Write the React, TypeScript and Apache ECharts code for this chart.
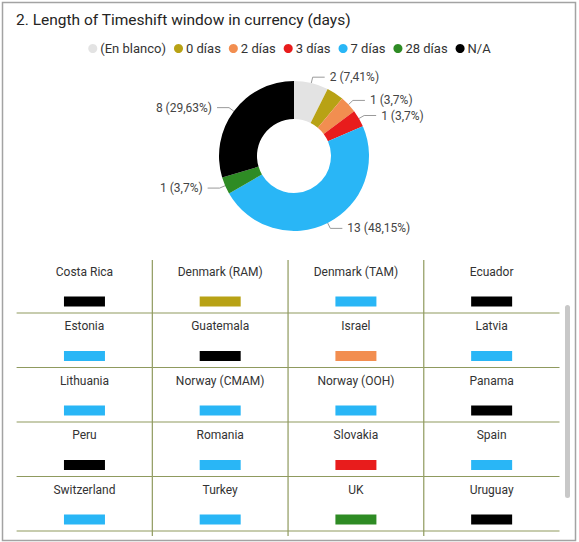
import React, { useEffect, useRef } from "react";
import * as echarts from "echarts";

const FONT = "Roboto";

const titleText = "2. Length of Timeshift window in currency (days)";

const categoryNames = ["(En blanco)", "0 días", "2 días", "3 días", "7 días", "28 días", "N/A"];
const categoryColors = ["#e3e3e3", "#b8a215", "#f28e50", "#e81c1c", "#29b6f6", "#2e8b24", "#000000"];
const pieValues = [2, 1, 1, 1, 13, 1, 8];
const hiddenLabels = ["0 días"];

const tableColumns = ["c1", "c2", "c3", "c4"];
const tableRows = ["r1", "r2", "r3", "r4", "r5"];
const countries = [
  "Costa Rica", "Denmark (RAM)", "Denmark (TAM)", "Ecuador",
  "Estonia", "Guatemala", "Israel", "Latvia",
  "Lithuania", "Norway (CMAM)", "Norway (OOH)", "Panama",
  "Peru", "Romania", "Slovakia", "Spain",
  "Switzerland", "Turkey", "UK", "Uruguay",
];
const countryCategory = [
  "N/A", "0 días", "7 días", "N/A",
  "7 días", "N/A", "2 días", "7 días",
  "7 días", "7 días", "7 días", "N/A",
  "N/A", "7 días", "3 días", "7 días",
  "7 días", "7 días", "28 días", "N/A",
];

const LINE_COLOR = "#8f9a5e";

export default function App() {
  const ref = useRef<HTMLDivElement>(null);

  useEffect(() => {
    if (!ref.current) return;
    const chart = echarts.init(ref.current, undefined, { renderer: "svg" });
    const total = pieValues.reduce((a, b) => a + b, 0);

    const pieData = categoryNames.map((name, i) => ({
      name,
      value: pieValues[i],
      itemStyle: { color: categoryColors[i] },
      label: { show: !hiddenLabels.includes(name) },
      labelLine: { show: !hiddenLabels.includes(name) },
    }));

    const nCols = tableColumns.length;
    const cellData = countries.map((_, i) => [i % nCols, Math.floor(i / nCols), i]);

    chart.setOption({
      animation: false,
      backgroundColor: "#ffffff",
      title: {
        text: titleText,
        left: 11,
        top: 7,
        textStyle: { fontSize: 15.5, fontWeight: "normal", color: "#252423", fontFamily: FONT },
      },
      legend: {
        top: 37,
        left: "center",
        icon: "circle",
        itemWidth: 9,
        itemHeight: 9,
        itemGap: 8,
        data: categoryNames,
        textStyle: { fontSize: 13, color: "#333333", fontFamily: FONT, padding: [0, 0, 0, -2] },
      },
      grid: { left: 16.6, right: 19.5, top: 258.5, height: 272.5 },
      xAxis: { type: "category", data: tableColumns, show: false },
      yAxis: { type: "category", data: tableRows, inverse: true, show: false },
      graphic: [
        {
          type: "rect",
          shape: { x: 2.5, y: 2.5, width: 573, height: 538 },
          style: { fill: "none", stroke: "#a3a3a3", lineWidth: 1.5 },
          silent: true,
        },
        {
          type: "rect",
          shape: { x: 565, y: 305, width: 5, height: 193, r: 2.5 },
          style: { fill: "#c8c8c8" },
          silent: true,
        },
      ],
      series: [
        {
          type: "pie",
          center: [294, 156],
          radius: [37, 75],
          startAngle: 90,
          clockwise: true,
          avoidLabelOverlap: true,
          data: pieData,
          label: {
            show: true,
            position: "outside",
            fontSize: 12,
            color: "#444444",
            fontFamily: FONT,
            formatter: (p: any) => {
              const pct = Number(((p.value / total) * 100).toFixed(2)).toString().replace(".", ",");
              return `${p.value} (${pct}%)`;
            },
          },
          labelLine: {
            show: true,
            length: 6,
            length2: 12,
            lineStyle: { color: "#9a9a9a", width: 1 },
          },
        },
        {
          type: "custom",
          coordinateSystem: "cartesian2d",
          data: cellData,
          renderItem: (params: any, api: any) => {
            const col = api.value(0);
            const row = api.value(1);
            const idx = api.value(2);
            const c = api.coord([col, row]);
            const s = api.size([1, 1]);
            const left = c[0] - s[0] / 2;
            const right = c[0] + s[0] / 2;
            const top = c[1] - s[1] / 2;
            const bottom = c[1] + s[1] / 2;
            const catIdx = categoryNames.indexOf(countryCategory[idx]);
            const children: any[] = [
              {
                type: "text",
                style: {
                  text: countries[idx],
                  x: c[0],
                  y: top + 13,
                  align: "center",
                  verticalAlign: "middle",
                  fill: "#333333",
                  fontSize: 12,
                  fontFamily: FONT,
                },
              },
              {
                type: "rect",
                shape: { x: c[0] - 20.5, y: top + 38, width: 41, height: 10 },
                style: { fill: categoryColors[catIdx] },
              },
              {
                type: "line",
                shape: { x1: left, y1: bottom, x2: right, y2: bottom },
                style: { stroke: LINE_COLOR, lineWidth: 1.2 },
              },
            ];
            if (col < nCols - 1) {
              children.push({
                type: "line",
                shape: {
                  x1: right,
                  y1: row === 0 ? top + 1.5 : top,
                  x2: right,
                  y2: row === tableRows.length - 1 ? bottom + 5 : bottom,
                },
                style: { stroke: LINE_COLOR, lineWidth: 1.2 },
              });
            }
            return { type: "group", children };
          },
        },
      ],
    });

    return () => chart.dispose();
  }, []);

  return (
    <div
      ref={ref}
      style={{ position: "fixed", left: 0, top: 0, width: 579, height: 542, background: "#fff" }}
    />
  );
}
